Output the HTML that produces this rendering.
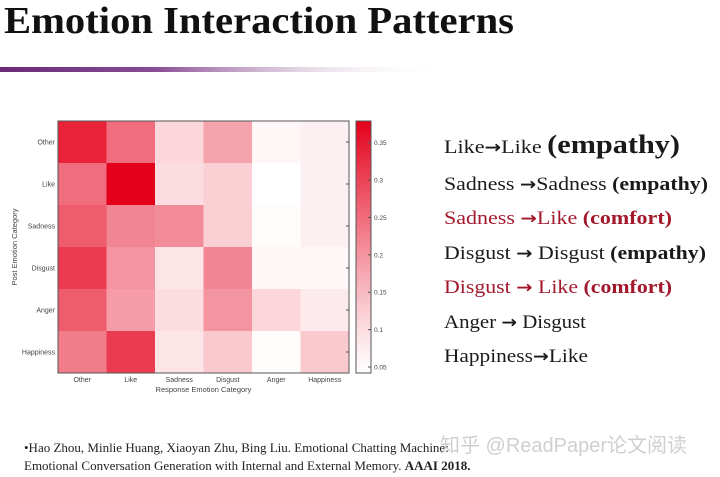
<!DOCTYPE html>
<html><head><meta charset="utf-8"><style>
html,body{margin:0;padding:0;background:#fff;}
svg{display:block;}
.ar{font-family:"DejaVu Sans",sans-serif;font-weight:bold;font-size:17px;}
</style></head><body>
<svg id="slide" width="720" height="477" viewBox="0 0 720 477" xmlns="http://www.w3.org/2000/svg">
<defs>
<linearGradient id="bar" x1="0" x2="1" y1="0" y2="0">
<stop offset="0" stop-color="#6a2a78"/><stop offset="0.35" stop-color="#8a4c94"/><stop offset="0.7" stop-color="#d8c4d8" stop-opacity="0.6"/><stop offset="1" stop-color="#fff" stop-opacity="0"/></linearGradient>
<linearGradient id="cbar" x1="0" x2="0" y1="1" y2="0"></linearGradient>
</defs>
<text x="4" y="33" font-family="Liberation Serif, serif" font-weight="bold" font-size="38" textLength="510" lengthAdjust="spacingAndGlyphs" fill="#111">Emotion Interaction Patterns</text>
<rect x="0" y="67" width="445" height="5" fill="url(#bar)"/>
<g id="chart"></g>
<g font-family="Liberation Serif, serif" font-size="19" fill="#1a1a1a">
<text x="444" y="153" textLength="236" lengthAdjust="spacingAndGlyphs">Like<tspan class="ar">→</tspan>Like <tspan font-weight="bold" font-size="26">(empathy)</tspan></text>
<text x="444" y="190" textLength="264" lengthAdjust="spacingAndGlyphs">Sadness <tspan class="ar">→</tspan>Sadness <tspan font-weight="bold">(empathy)</tspan></text>
<text x="444" y="224" textLength="228" lengthAdjust="spacingAndGlyphs" fill="#a3192c">Sadness <tspan class="ar">→</tspan>Like <tspan font-weight="bold">(comfort)</tspan></text>
<text x="444" y="259" textLength="262" lengthAdjust="spacingAndGlyphs">Disgust <tspan class="ar">→</tspan> Disgust <tspan font-weight="bold">(empathy)</tspan></text>
<text x="444" y="293" textLength="228" lengthAdjust="spacingAndGlyphs" fill="#a3192c">Disgust <tspan class="ar">→</tspan> Like <tspan font-weight="bold">(comfort)</tspan></text>
<text x="444" y="328" textLength="142" lengthAdjust="spacingAndGlyphs">Anger <tspan class="ar">→</tspan> Disgust</text>
<text x="444" y="362" textLength="144" lengthAdjust="spacingAndGlyphs">Happiness<tspan class="ar">→</tspan>Like</text>
</g>
<g font-family="Liberation Serif, serif" font-size="13" fill="#222">
<text x="24" y="452">•Hao Zhou, Minlie Huang, Xiaoyan Zhu, Bing Liu. Emotional Chatting Machine:</text>
<text x="24" y="470">Emotional Conversation Generation with Internal and External Memory. <tspan font-weight="bold">AAAI 2018.</tspan></text>
</g>
<text x="440" y="452" font-family="Liberation Sans, 'Noto Sans CJK SC', sans-serif" font-size="20" fill="#bbb" opacity="0.7">知乎 @ReadPaper论文阅读</text>
</svg>
<script>
const rows = ["Other","Like","Sadness","Disgust","Anger","Happiness"];
const cols = ["Other","Like","Sadness","Disgust","Anger","Happiness"];
const rowOther = [0.34,0.25,0.11,0.18,0.06,0.07];
const rowLike = [0.25,0.38,0.10,0.12,0.04,0.07];
const rowSadness = [0.27,0.22,0.21,0.12,0.05,0.07];
const rowDisgust = [0.31,0.20,0.09,0.22,0.06,0.06];
const rowAnger = [0.27,0.19,0.10,0.20,0.11,0.08];
const rowHappiness = [0.23,0.31,0.09,0.13,0.05,0.13];
const cbTicks = [0.05,0.1,0.15,0.2,0.25,0.3,0.35];
const cbTickLabels = ["0.05","0.1","0.15","0.2","0.25","0.3","0.35"];

const values = [rowOther,rowLike,rowSadness,rowDisgust,rowAnger,rowHappiness];
const NS="http://www.w3.org/2000/svg";
const g=document.getElementById('chart');
const L=58,R=349,T=121,B=373,vmin=0.042,vmax=0.379;
const cw=(R-L)/cols.length, ch=(B-T)/rows.length;
const xs=i=>L+i*cw, ys=j=>T+j*ch;
const cbY=v=>B-(v-vmin)/(vmax-vmin)*(B-T);
function colorT(t){t=Math.max(0,Math.min(1,t));const s=Math.pow(t,1.15);
return `rgb(${Math.round(255-27*s)},${Math.round(255-255*s)},${Math.round(255-228*s)})`;}
const color=v=>colorT((v-vmin)/(vmax-vmin));
const grad=document.getElementById('cbar');
for(let k=0;k<=10;k++){const st=document.createElementNS(NS,'stop');st.setAttribute('offset',k/10);st.setAttribute('stop-color',colorT(k/10));grad.appendChild(st);}
function mk(tag,attrs){const e=document.createElementNS(NS,tag);for(const k in attrs)e.setAttribute(k,attrs[k]);g.appendChild(e);return e;}
values.forEach((row,j)=>row.forEach((v,i)=>{
 const r=mk('rect',{x:xs(i),y:ys(j),width:cw+0.5,height:ch+0.5,fill:color(v)});
 
 
}));
const fr=mk('rect',{x:L,y:T,width:R-L,height:B-T,fill:'none',stroke:'#555','stroke-width':1});


rows.forEach((r,j)=>{
 const t=mk('text',{x:L-3,y:ys(j)+ch/2+2.5,'text-anchor':'end','font-family':'Liberation Sans, sans-serif','font-size':7,fill:'#444'});t.textContent=r;
 
 
 mk('line',{x1:R,x2:R-3,y1:ys(j)+ch/2,y2:ys(j)+ch/2,stroke:'#555'});
});
cols.forEach((c,i)=>{
 const t=mk('text',{x:xs(i)+cw/2,y:382,'text-anchor':'middle','font-family':'Liberation Sans, sans-serif','font-size':7,fill:'#444'});t.textContent=c;
 
 
});
let xt=mk('text',{x:(L+R)/2,y:392,'text-anchor':'middle','font-family':'Liberation Sans, sans-serif','font-size':7.5,fill:'#444'});xt.textContent='Response Emotion Category';


let yt=mk('text',{x:0,y:0,transform:`translate(17,${(T+B)/2}) rotate(-90)`,'text-anchor':'middle','font-family':'Liberation Sans, sans-serif','font-size':7.5,fill:'#444'});yt.textContent='Post Emotion Category';


const cb=mk('rect',{x:356,y:T,width:15,height:B-T,fill:'url(#cbar)',stroke:'#555'});


cbTicks.forEach((v,k)=>{
 mk('line',{x1:371,x2:368,y1:cbY(v),y2:cbY(v),stroke:'#555'});
 const t=mk('text',{x:374,y:cbY(v)+2.5,'font-family':'Liberation Sans, sans-serif','font-size':6.5,fill:'#444'});t.textContent=cbTickLabels[k];
 
 
});
</script>
</body></html>
